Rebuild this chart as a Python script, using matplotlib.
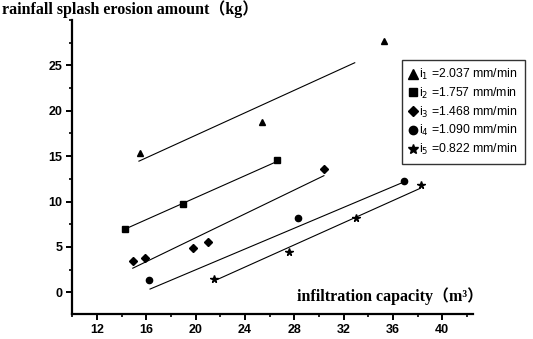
import matplotlib
matplotlib.use("Agg")
import matplotlib.pyplot as plt
from matplotlib.lines import Line2D
from matplotlib.ticker import MultipleLocator

# measured points (infiltration capacity, splash erosion amount)
i1_x = [15.5, 25.4, 35.3]
i1_y = [15.4, 18.8, 27.7]
i2_x = [14.3, 19.0, 26.6]
i2_y = [7.0, 9.7, 14.6]
i3_x = [14.9, 15.9, 19.8, 21.0, 30.4]
i3_y = [3.4, 3.8, 4.9, 5.5, 13.6]
i4_x = [16.2, 28.3, 36.9]
i4_y = [1.4, 8.2, 12.3]
i5_x = [21.5, 27.6, 33.0, 38.3]
i5_y = [1.5, 4.4, 8.2, 11.8]

# fitted lines as drawn (start/end)
fit1_x = [15.4, 32.9]
fit1_y = [14.45, 25.3]
fit2_x = [14.5, 26.4]
fit2_y = [7.1, 14.3]
fit3_x = [14.9, 30.4]
fit3_y = [2.65, 12.85]
fit4_x = [16.3, 36.7]
fit4_y = [0.35, 12.05]
fit5_x = [21.5, 38.2]
fit5_y = [1.25, 11.45]

labels = [r'i$_1$ =2.037 mm/min', r'i$_2$ =1.757 mm/min', r'i$_3$ =1.468 mm/min',
          r'i$_4$ =1.090 mm/min', r'i$_5$ =0.822 mm/min']
markers = ['^', 's', 'D', 'o', '*']
msizes = [5, 4.5, 4, 4.5, 5.5]

fig = plt.figure(figsize=(5.33, 3.39), dpi=100)
ax = fig.add_axes([0.1357, 0.0737, 0.752, 0.867])

xs = [i1_x, i2_x, i3_x, i4_x, i5_x]
ys = [i1_y, i2_y, i3_y, i4_y, i5_y]
fxs = [fit1_x, fit2_x, fit3_x, fit4_x, fit5_x]
fys = [fit1_y, fit2_y, fit3_y, fit4_y, fit5_y]
for k in range(5):
    ax.plot(fxs[k], fys[k], color='black', lw=0.8)
    ax.plot(xs[k], ys[k], linestyle='none', marker=markers[k], color='black',
            markersize=msizes[k])

ax.set_xlim(10, 42.5)
ax.set_ylim(-2.4, 30)
ax.xaxis.set_major_locator(MultipleLocator(4))
ax.xaxis.set_minor_locator(MultipleLocator(2))
ax.yaxis.set_major_locator(MultipleLocator(5))
ax.yaxis.set_minor_locator(MultipleLocator(2.5))
ax.set_xticks([12, 16, 20, 24, 28, 32, 36, 40])
ax.set_yticks([0, 5, 10, 15, 20, 25])
ax.spines['top'].set_visible(False)
ax.spines['right'].set_visible(False)
ax.spines['left'].set_linewidth(1.6)
ax.spines['bottom'].set_linewidth(1.6)
ax.tick_params(which='major', direction='out', length=4, width=1.4, pad=3)
ax.tick_params(which='minor', direction='out', length=2.5, width=1.2)
for t in ax.get_xticklabels() + ax.get_yticklabels():
    t.set_fontfamily('Liberation Sans')
    t.set_fontweight('bold')
    t.set_fontsize(9)

lab_font = ['Liberation Serif', 'Noto Sans CJK SC']
fig.text(0.004, 0.972, 'rainfall splash erosion amount（kg）', family=lab_font,
         fontweight='bold', fontsize=11.5, ha='left', va='center')
fig.text(0.557, 0.127, 'infiltration capacity（m³）', family=lab_font,
         fontweight='bold', fontsize=11.5, ha='left', va='center')

handles = [Line2D([], [], linestyle='none', marker=markers[k], color='black',
                  markersize=msizes[k] + 1.5) for k in range(5)]
leg = fig.legend(handles, labels, loc='center',
                 bbox_to_anchor=(0.741, 0.528, 0.257, 0.283),
                 prop={'family': 'Liberation Sans', 'size': 8.8},
                 frameon=True, fancybox=False, edgecolor='black',
                 handlelength=0.6, handletextpad=0.2, labelspacing=0.3,
                 borderpad=0.6)
leg.get_frame().set_linewidth(1.0)

plt.savefig("out.png", dpi=100)
